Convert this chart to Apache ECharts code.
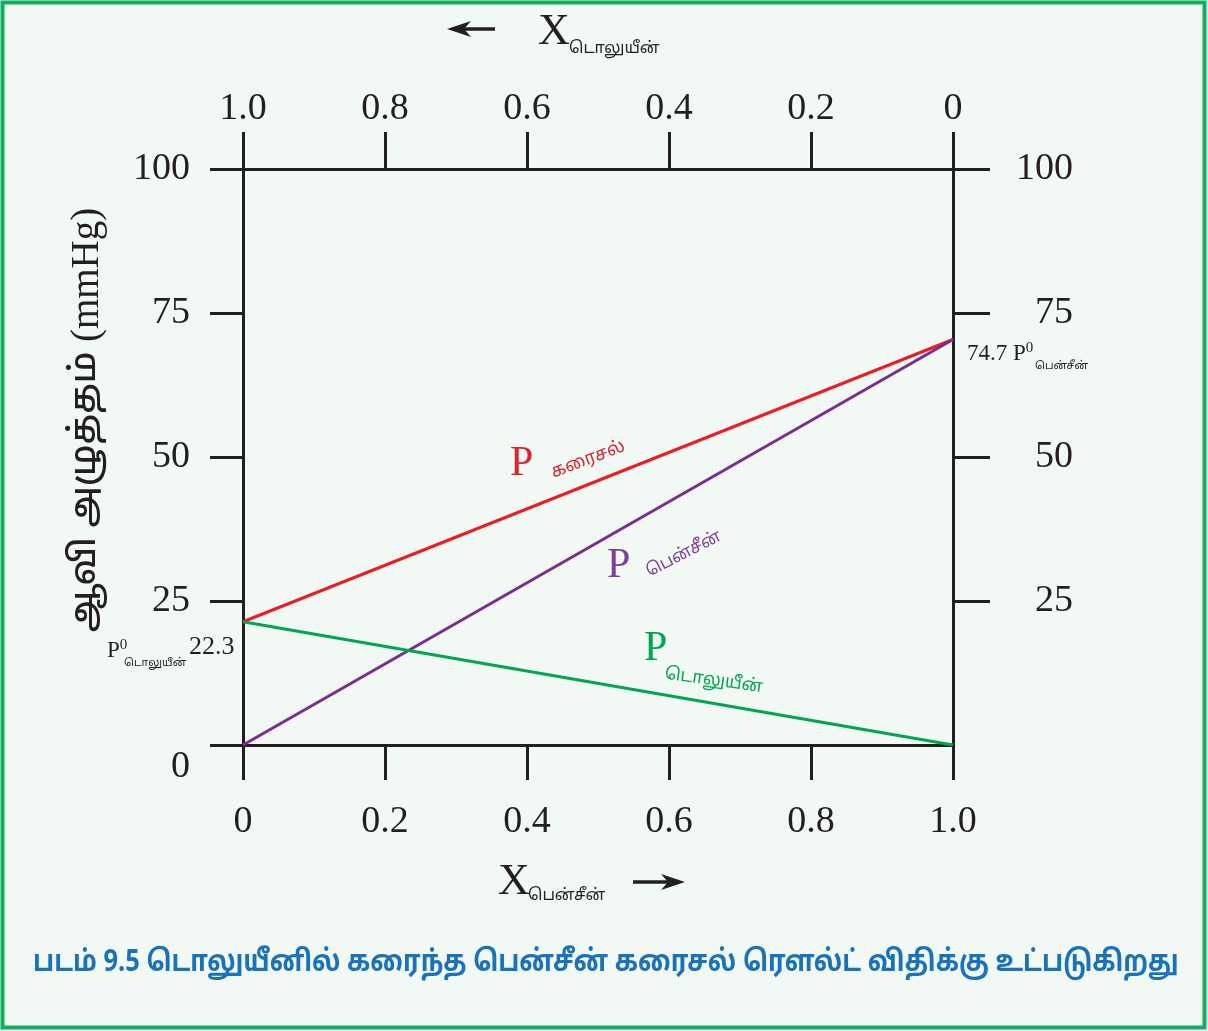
<!DOCTYPE html>
<html>
<head>
<meta charset="utf-8">
<script src="https://cdn.jsdelivr.net/npm/echarts@6/dist/echarts.min.js"></script>
<style>
html,body{margin:0;padding:0;background:#f2f8f4;}
#c{width:1208px;height:1031px;}
</style>
</head>
<body>
<div id="c"></div>
<script>
// ---- data ----
const xBenzene = [0, 1];                 // mole fraction of benzene
const pSolution = [21.4, 70.4];          // total vapour pressure
const pBenzene = [0, 70.4];              // partial pressure benzene
const pToluene = [21.4, 0];              // partial pressure toluene
const yTicks = [0, 25, 50, 75, 100];
const xTicks = [0, 0.2, 0.4, 0.6, 0.8, 1.0];

const SERIF = "'Liberation Serif', 'DejaVu Serif', serif";
const TAMIL = "'Noto Sans Tamil', 'Noto Sans', 'DejaVu Sans', sans-serif";
const INK = '#231f20';

function pairs(xs, ys){ return xs.map((x,i)=>[x, ys[i]]); }
function fmtX(v){ if (v === 0) return '0'; if (v === 1) return '1.0'; return v.toFixed(1); }

const chart = echarts.init(document.getElementById('c'), null, {renderer:'canvas'});

const axisLine = {show:true, onZero:false, lineStyle:{color:INK, width:3}};
const tick = (len)=>({show:true, inside:false, length:len, lineStyle:{color:INK, width:3}});

function arrow(x1, x2, y, dir){
  const hx = dir < 0 ? x1 : x2;
  const back = dir < 0 ? hx + 24 : hx - 24;
  const notch = dir < 0 ? hx + 17 : hx - 17;
  return [
    {type:'line', silent:true, shape:{x1: dir<0 ? notch : x1, y1:y, x2: dir<0 ? x2 : notch, y2:y},
     style:{stroke:INK, lineWidth:3.5}},
    {type:'polygon', silent:true, shape:{points:[[hx,y],[back,y-8],[notch,y],[back,y+8]]},
     style:{fill:INK}}
  ];
}

const option = {
  backgroundColor: '#f2f8f4',
  animation: false,
  grid: {left:243, right:255, top:169, bottom:286, containLabel:false},
  xAxis: [
    {type:'value', position:'bottom', min:0, max:1, interval:0.2,
     axisLine: axisLine, axisTick: tick(35), splitLine:{show:false},
     axisLabel:{margin:58, color:INK, fontFamily:SERIF, fontSize:38, formatter:fmtX}},
    {type:'value', position:'top', inverse:true, min:0, max:1, interval:0.2,
     axisLine: axisLine, axisTick: tick(37), splitLine:{show:false},
     axisLabel:{margin:41, color:INK, fontFamily:SERIF, fontSize:38, formatter:fmtX}}
  ],
  yAxis: [
    {type:'value', position:'left', min:0, max:100, interval:25,
     axisLine: axisLine, axisTick: tick(33), splitLine:{show:false},
     axisLabel:{margin:53, color:INK, fontFamily:SERIF, fontSize:38,
       formatter:(v)=> v===0 ? '{z|0}' : String(v),
       rich:{z:{fontFamily:SERIF, fontSize:38, color:INK, padding:[44,0,0,0]}}}},
    {type:'value', position:'right', min:0, max:100, interval:25,
     axisLine: axisLine, splitLine:{show:false},
     axisTick: Object.assign(tick(37), {customValues:[25,50,75,100]}),
     axisLabel:{margin:120, align:'right', color:INK, fontFamily:SERIF, fontSize:38,
       customValues:[25,50,75,100]}}
  ],
  series: [
    {type:'line', xAxisIndex:0, yAxisIndex:0, data:pairs(xBenzene,pSolution), symbol:'none',
     lineStyle:{color:'#ed1c24', width:3}},
    {type:'line', xAxisIndex:0, yAxisIndex:0, data:pairs(xBenzene,pBenzene), symbol:'none',
     lineStyle:{color:'#7b2d90', width:3}},
    {type:'line', xAxisIndex:0, yAxisIndex:0, data:pairs(xBenzene,pToluene), symbol:'none',
     lineStyle:{color:'#00a651', width:3}}
  ],
  graphic: [
    {type:'rect', left:0, top:0, z:-10, silent:true,
     shape:{x:2, y:2, width:1202, height:1025},
     style:{fill:null, stroke:'#12ad5f', lineWidth:4}},
    // top title
    ...arrow(447, 495, 29, -1),
    {type:'text', x:538, y:10, style:{text:'X', font:'normal 44px '+SERIF, fill:INK}},
    {type:'text', x:569, y:42, style:{text:'டொலுயீன்', font:'normal 16px '+TAMIL, fill:INK}},
    // bottom title
    {type:'text', x:498, y:860, style:{text:'X', font:'normal 44px '+SERIF, fill:INK}},
    {type:'text', x:528, y:889, style:{text:'பென்சீன்', font:'normal 16px '+TAMIL, fill:INK}},
    ...arrow(633, 685, 882, 1),
    // y title
    {type:'text', x:88, y:420, rotation:Math.PI/2,
     style:{text:'{t|ஆவி அழுத்தம் }{s|(mmHg)}', align:'center', verticalAlign:'middle',
       rich:{t:{font:'500 36px '+TAMIL, fill:INK}, s:{font:'normal 39px '+SERIF, fill:INK}}}},
    // endpoint annotations
    {type:'text', x:967, y:341,
     style:{text:'{a|74.7 P}{b|0}', rich:{a:{font:'normal 23px '+SERIF, fill:INK}, b:{font:'normal 15px '+SERIF, fill:INK, padding:[0,0,10,0]}}}},
    {type:'text', x:1035, y:361, style:{text:'பென்சீன்', font:'normal 11px '+TAMIL, fill:INK}},
    {type:'text', x:107, y:638,
     style:{text:'{a|P}{b|0}', rich:{a:{font:'normal 23px '+SERIF, fill:INK}, b:{font:'normal 15px '+SERIF, fill:INK, padding:[0,0,10,0]}}}},
    {type:'text', x:124, y:658, style:{text:'டொலுயீன்', font:'normal 11px '+TAMIL, fill:INK}},
    {type:'text', x:189, y:634, style:{text:'22.3', font:'normal 26px '+SERIF, fill:INK}},
    // line labels
    {type:'text', x:510, y:443, style:{text:'P', font:'normal 42px '+SERIF, fill:'#d7262e'}},
    {type:'text', x:549, y:466, rotation:0.36, style:{text:'கரைசல்', font:'normal 18px '+TAMIL, fill:'#d7262e'}},
    {type:'text', x:607, y:545, style:{text:'P', font:'normal 42px '+SERIF, fill:'#7e3f98'}},
    {type:'text', x:644, y:566, rotation:0.47, style:{text:'பென்சீன்', font:'normal 17px '+TAMIL, fill:'#7e3f98'}},
    {type:'text', x:644, y:628, style:{text:'P', font:'normal 42px '+SERIF, fill:'#00a651'}},
    {type:'text', x:666, y:666, rotation:-0.14, style:{text:'டொலுயீன்', font:'normal 17.5px '+TAMIL, fill:'#00a651'}},
    // caption
    {type:'text', x:33, y:950, scaleX:0.862, originX:0, originY:0,
     style:{text:'படம் 9.5 டொலுயீனில் கரைந்த பென்சீன் கரைசல் ரௌல்ட் விதிக்கு உட்படுகிறது',
       font:'bold 29.5px '+TAMIL, fill:'#1a72bb'}}
  ]
};
chart.setOption(option);
</script>
</body>
</html>
